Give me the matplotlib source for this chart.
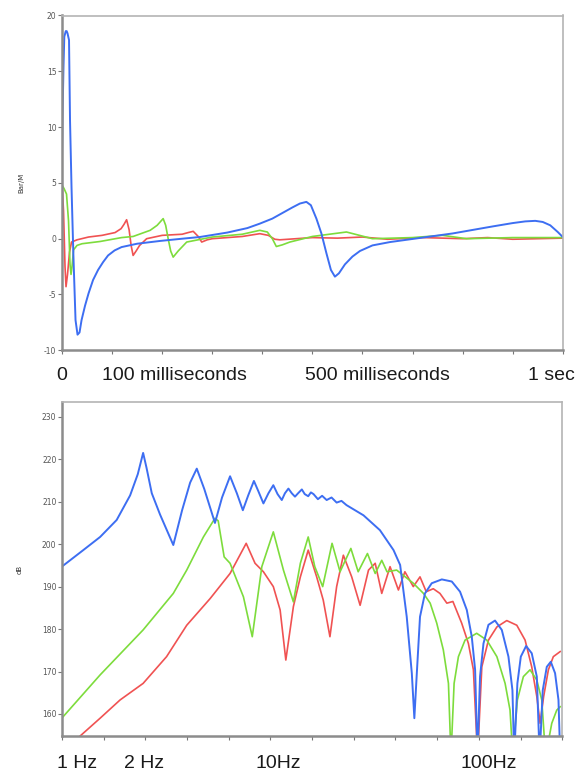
import matplotlib
matplotlib.use("Agg")
import matplotlib.pyplot as plt
import numpy as np

plt.rcParams["axes.unicode_minus"] = False

# ------------------ time response (top) ---------------------
t_blue = [0, 0.001, 0.003, 0.0046, 0.0075, 0.0093, 0.011, 0.014, 0.016, 0.019, 0.0226, 0.027,
          0.031, 0.035, 0.039, 0.046, 0.053, 0.062, 0.072, 0.082, 0.092, 0.105, 0.119, 0.15,
          0.196, 0.24, 0.275, 0.33, 0.37, 0.395, 0.42, 0.44, 0.46, 0.475, 0.488, 0.497,
          0.508, 0.518, 0.528, 0.537, 0.545, 0.553, 0.565, 0.58, 0.595, 0.62, 0.655, 0.72,
          0.78, 0.86, 0.9, 0.925, 0.945, 0.96, 0.975, 0.99, 1.0]
p_blue = [7.3, 11, 15.5, 18.1, 18.6, 18.6, 18.4, 17.8, 10.6, 4.6, -1.3, -7.3,
          -8.6, -8.4, -7.3, -6.0, -4.9, -3.7, -2.8, -2.1, -1.5, -1.05, -0.75, -0.45,
          -0.2, 0.0, 0.15, 0.55, 0.95, 1.35, 1.8, 2.3, 2.8, 3.15, 3.3, 3.0,
          1.8, 0.47, -1.3, -2.8, -3.4, -3.1, -2.3, -1.6, -1.1, -0.6, -0.3, 0.1,
          0.47, 1.1, 1.4, 1.55, 1.6, 1.5, 1.2, 0.6, 0.15]

t_red = [0, 0.003, 0.006, 0.008, 0.011, 0.015, 0.019, 0.03, 0.053, 0.08, 0.106, 0.118,
         0.124, 0.129, 0.134, 0.138, 0.142, 0.148, 0.155, 0.169, 0.2, 0.24, 0.252, 0.262,
         0.272, 0.279, 0.29, 0.3, 0.36, 0.395, 0.412, 0.425, 0.435, 0.5, 0.55, 0.6,
         0.65, 0.72, 0.8, 0.85, 0.9, 1.0]
p_red = [5.0, 2.5, -2.5, -4.3, -3.2, -1.2, -0.3, -0.1, 0.15, 0.3, 0.55, 0.9,
         1.3, 1.7, 0.8, -0.6, -1.5, -1.1, -0.6, 0.0, 0.3, 0.4, 0.55, 0.66,
         0.2, -0.3, -0.1, 0.0, 0.2, 0.45, 0.3, -0.05, -0.1, 0.1, 0.05, 0.15,
         -0.05, 0.1, 0.0, 0.1, -0.05, 0.05]

t_green = [0, 0.004, 0.009, 0.013, 0.016, 0.018, 0.02, 0.023, 0.03, 0.04, 0.076, 0.119,
           0.142, 0.176, 0.19, 0.202, 0.207, 0.212, 0.217, 0.222, 0.232, 0.249, 0.3, 0.36,
           0.395, 0.41, 0.42, 0.428, 0.44, 0.455, 0.5, 0.568, 0.62, 0.7, 0.76, 0.808,
           0.9, 1.0]
p_green = [4.8, 4.5, 4.0, 1.6, -2.3, -3.2, -2.5, -1.0, -0.6, -0.45, -0.25, 0.1,
           0.2, 0.75, 1.2, 1.8, 1.2, 0.0, -1.1, -1.65, -1.1, -0.3, 0.15, 0.4,
           0.75, 0.6, 0.0, -0.7, -0.55, -0.3, 0.2, 0.6, 0.0, 0.1, 0.3, 0.0,
           0.1, 0.1]

top_labels = ["0", "100 milliseconds", "500 milliseconds", "1 sec"]
top_label_x = [0.0, 0.224, 0.629, 0.978]

# ------------------ spectrum (bottom) ---------------------
f_blue = [0.834, 1.06, 1.28, 1.54, 1.79, 1.95, 2.07, 2.15, 2.28, 2.5, 2.90, 3.2,
          3.5, 3.77, 4.1, 4.62, 5.0, 5.47, 5.9, 6.31, 6.7, 7.14, 7.5, 7.94,
          8.4, 8.87, 9.3, 9.75, 10.1, 10.5, 10.9, 11.3, 11.7, 12.2, 12.6, 13.1,
          13.5, 13.9, 14.6, 15.3, 16.1, 17.0, 18.0, 19.0, 20.1, 24.3, 29.2, 34.0,
          36.6, 39.4, 41.7, 42.9, 44.1, 45.7, 48.3, 52.1, 58.3, 65.2, 71.5, 77.1,
          81.5, 84.6, 86.9, 89.4, 92.9, 98.2, 105.7, 114, 122.8, 128.4, 131, 135.7,
          141, 149.6, 159.3, 168.6, 174, 180.2, 188.5, 197.1, 206.8, 214.8, 219]
db_blue = [194.7, 198.6, 201.7, 205.7, 211.5, 216.5, 221.5, 218, 212, 207, 199.8, 208,
           214.5, 217.8, 213, 205, 211, 216, 212, 208, 211.5, 214.9, 212.5, 209.6,
           212, 213.9, 211.8, 210.4, 212, 213.1, 212, 211.2, 212, 212.9, 211.8, 211.3,
           212.2, 211.8, 210.6, 211.4, 210.4, 211, 209.8, 210.2, 209.2, 206.8, 203.3, 198.6,
           195.1, 182.9, 169.6, 159, 169.6, 182.9, 188.4, 190.8, 191.7, 191.2, 188.8, 184.5,
           178.2, 170.4, 150, 168.8, 176.6, 181, 182, 179.8, 173.5, 165.6, 150, 167.2,
           173.5, 176, 174.3, 168.8, 150, 165.6, 171.1, 172.3, 169.6, 163.3, 150]

f_green = [0.834, 1.28, 2.07, 2.90, 3.37, 4.06, 4.62, 4.79, 5.12, 5.47, 6.35, 7.01,
           7.80, 8.87, 9.93, 11.1, 12.0, 13.1, 14.1, 15.4, 17.1, 18.7, 21.1, 22.9,
           25.4, 27.7, 29.8, 31.6, 35.2, 42.4, 47.5, 51.2, 55.1, 59.3, 62.8, 64.6,
           66.9, 70.2, 75.6, 86.1, 96.4, 107.9, 118.3, 125, 128.9, 135.7, 145.1, 156.3,
           168.6, 178.2, 186, 199.3, 210.7, 219]
db_green = [159, 169.2, 179.8, 188.4, 193.9, 201.7, 206.1, 205.5, 197, 195.5, 187.6, 178.2,
            194.7, 202.9, 193.9, 186.4, 195.5, 201.7, 194.7, 190, 200.2, 193.5, 199, 193.5,
            197.8, 193.1, 196.2, 193.5, 193.9, 190.8, 188.4, 186.1, 181.4, 175.1, 167.2, 150,
            167.2, 173.5, 177.4, 179, 177.4, 173.5, 167.2, 160.9, 150, 163.3, 168.8, 170.4,
            168, 163.3, 150, 157.8, 160.9, 161.7]

f_red = [0.93, 1.28, 1.60, 2.07, 2.69, 3.37, 4.38, 5.47, 6.55, 7.23, 7.94, 8.87,
         9.57, 10.2, 11.1, 12.0, 13.1, 14.4, 15.5, 16.7, 18.0, 19.4, 21.3, 23.4,
         25.7, 27.7, 29.8, 32.7, 35.9, 38.6, 42.4, 45.7, 49.0, 53.0, 57.1, 61.7,
         66.0, 72.8, 78.5, 83.0, 87.0, 91.2, 98.2, 107.9, 120.5, 134.8, 147.9, 159.3,
         168.6, 174.9, 182, 191.9, 202.8, 219]
db_red = [153, 159, 163.3, 167.2, 173.5, 180.9, 187.2, 193.1, 200.2, 195.5, 193.5, 190,
          184.5, 172.7, 185.3, 192.3, 198.6, 192.3, 186.8, 178.2, 190, 197.4, 192.3, 185.6,
          193.9, 195.5, 188.4, 194.7, 189.2, 193.5, 190, 192.3, 188.8, 189.5, 188.4, 186.1,
          186.5, 181.4, 176.6, 170.4, 150, 171.1, 177.4, 180.5, 182, 180.9, 177.4, 171.1,
          164.1, 157.8, 164.1, 170.4, 173.5, 174.7]

bottom_labels = ["1 Hz", "2 Hz", "10Hz", "100Hz"]
bottom_label_x = [0.99, 2.09, 9.4, 98.4]

BLUE = "#3d6ef2"
RED = "#f05252"
GREEN = "#7ddc3c"
BIG_FONT = "Liberation Sans"


def style_axes(ax):
    for side in ["left", "bottom"]:
        ax.spines[side].set_color("#8c8c8c")
        ax.spines[side].set_linewidth(1.8)
    for side in ["top", "right"]:
        ax.spines[side].set_color("#b4b4b4")
        ax.spines[side].set_linewidth(1.2)
    ax.tick_params(axis="both", which="both", direction="out", length=3,
                   width=0.8, color="#777777", labelsize=5.5, labelcolor="#555555", pad=1)


fig = plt.figure(figsize=(5.85, 7.75), dpi=100)

ax1 = fig.add_axes([0.106, 0.548, 0.856, 0.432])
ax1.plot(t_red, p_red, color=RED, lw=1.2)
ax1.plot(t_green, p_green, color=GREEN, lw=1.2)
ax1.plot(t_blue, p_blue, color=BLUE, lw=1.4)
ax1.set_xlim(0, 1)
ax1.set_ylim(-10, 20)
ax1.set_xticks(np.arange(0, 1.01, 0.1))
ax1.set_xticklabels([])
ax1.set_yticks(np.arange(-10, 21, 5))
ax1.set_ylabel("Bar/M", fontsize=5, labelpad=14, color="#333333")
style_axes(ax1)
for lab, x in zip(top_labels, top_label_x):
    ax1.text(x, -0.075, lab, transform=ax1.get_xaxis_transform(), ha="center", va="center",
             fontsize=14, family=BIG_FONT, color="#1a1a1a")

ax2 = fig.add_axes([0.106, 0.0503, 0.855, 0.431])
ax2.plot(f_red, db_red, color=RED, lw=1.2)
ax2.plot(f_green, db_green, color=GREEN, lw=1.2)
ax2.plot(f_blue, db_blue, color=BLUE, lw=1.4)
ax2.set_xscale("log")
ax2.set_xlim(0.836, 223.9)
ax2.set_ylim(154.8, 233.5)
ax2.set_xticks(np.logspace(np.log10(0.836), np.log10(223.9), 13))
ax2.set_xticks([], minor=True)
ax2.set_xticklabels([])
ax2.set_yticks(np.arange(160, 231, 10))
ax2.set_ylabel("dB", fontsize=5, labelpad=14, color="#333333")
style_axes(ax2)
for lab, x in zip(bottom_labels, bottom_label_x):
    ax2.text(x, -0.081, lab, transform=ax2.get_xaxis_transform(), ha="center", va="center",
             fontsize=14, family=BIG_FONT, color="#1a1a1a")

fig.savefig("out.png", dpi=100)
